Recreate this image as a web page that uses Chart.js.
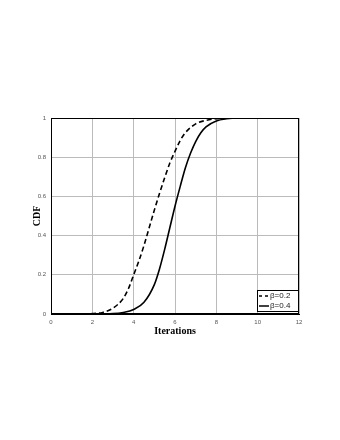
<!DOCTYPE html>
<html>
<head>
<meta charset="utf-8">
<script src="https://cdn.jsdelivr.net/npm/chart.js@4/dist/chart.umd.min.js"></script>
<style>
html,body{margin:0;padding:0;background:#fff;}
#wrap{width:340px;height:440px;}
</style>
</head>
<body>
<div id="wrap"><canvas id="c" width="340" height="440"></canvas></div>
<script>
const xLabel = "Iterations";
const yLabel = "CDF";
const seriesNames = ["\u03b2=0.2", "\u03b2=0.4"];
const xTicks = [0, 2, 4, 6, 8, 10, 12];
const yTicks = [0, 0.2, 0.4, 0.6, 0.8, 1];

const xBeta02 = [0, 1, 2, 2.5, 3, 3.5, 3.75, 4, 4.25, 4.5, 4.75, 5, 5.25, 5.5, 5.75, 6, 6.25, 6.5, 7, 7.5, 8, 9, 10, 11];
const yBeta02 = [0, 0, 0.002, 0.008, 0.03, 0.08, 0.13, 0.2, 0.27, 0.35, 0.44, 0.53, 0.615, 0.695, 0.77, 0.83, 0.885, 0.925, 0.97, 0.988, 0.996, 1, 1, 1];

const xBeta04 = [0, 1, 2, 3, 3.5, 4, 4.5, 5, 5.25, 5.5, 5.75, 6, 6.25, 6.5, 6.75, 7, 7.25, 7.5, 8, 8.5, 9, 10, 11];
const yBeta04 = [0, 0, 0, 0.002, 0.008, 0.023, 0.06, 0.15, 0.23, 0.33, 0.44, 0.55, 0.65, 0.745, 0.82, 0.88, 0.925, 0.955, 0.985, 0.996, 1, 1, 1];

function pts(xs, ys){ return xs.map((x,i)=>({x:x, y:ys[i]})); }

const titlesAndFrame = {
  id: 'titlesAndFrame',
  afterDraw(chart){
    const ctx = chart.ctx, a = chart.chartArea;
    ctx.save();
    ctx.strokeStyle = '#000';
    ctx.lineWidth = 1;
    ctx.strokeRect(a.left+0.5, a.top+0.5, a.right-a.left-1, a.bottom-a.top-1);
    ctx.fillStyle = '#000';
    ctx.font = 'bold 10px "Liberation Serif", "DejaVu Serif", serif';
    ctx.textAlign = 'center';
    ctx.textBaseline = 'middle';
    ctx.fillText(xLabel, (a.left+a.right)/2, 331);
    ctx.save();
    ctx.translate(37, (a.top+a.bottom)/2);
    ctx.rotate(-Math.PI/2);
    ctx.fillText(yLabel, 0, 0);
    ctx.restore();
    const lx = 257, ly = 290, lw = 41, lh = 21;
    ctx.fillStyle = '#fff';
    ctx.fillRect(lx, ly, lw, lh);
    ctx.strokeStyle = '#000';
    ctx.lineWidth = 1;
    ctx.strokeRect(lx+0.5, ly+0.5, lw, lh);
    ctx.lineWidth = 1.5;
    ctx.setLineDash([3,3]);
    ctx.beginPath(); ctx.moveTo(lx+2, ly+6); ctx.lineTo(lx+12, ly+6); ctx.stroke();
    ctx.setLineDash([]);
    ctx.beginPath(); ctx.moveTo(lx+2, ly+16); ctx.lineTo(lx+12, ly+16); ctx.stroke();
    ctx.fillStyle = '#222';
    ctx.font = '8px "Liberation Sans", Arial, sans-serif';
    ctx.textAlign = 'left';
    ctx.fillText(seriesNames[0], lx+13, ly+6);
    ctx.fillText(seriesNames[1], lx+13, ly+16);
    ctx.restore();
  }
};

new Chart(document.getElementById('c'), {
  type: 'line',
  data: {
    datasets: [
      { label: seriesNames[0], data: pts(xBeta02, yBeta02), borderColor: '#000', borderWidth: 1.6, borderDash: [5,3], pointRadius: 0, fill: false, cubicInterpolationMode: 'monotone' },
      { label: seriesNames[1], data: pts(xBeta04, yBeta04), borderColor: '#000', borderWidth: 1.6, pointRadius: 0, fill: false, cubicInterpolationMode: 'monotone' }
    ]
  },
  options: {
    responsive: false,
    animation: false,
    layout: { padding: { left: 0, top: 118, right: 41, bottom: 0 } },
    plugins: { legend: { display: false }, tooltip: { enabled: false } },
    scales: {
      x: {
        type: 'linear', min: 0, max: 12,
        afterBuildTicks(s){ s.ticks = xTicks.map(v=>({value:v})); },
        afterFit(s){ s.height = 126; },
        grid: { color: '#bbb', lineWidth: 1, drawTicks: false },
        border: { color: '#000' },
        ticks: { color: '#555', font: { size: 6, family: '"Liberation Sans", Arial, sans-serif' }, padding: 5, maxRotation: 0 }
      },
      y: {
        type: 'linear', min: 0, max: 1,
        afterBuildTicks(s){ s.ticks = yTicks.map(v=>({value:v})); },
        afterFit(s){ s.width = 51; },
        grid: { color: '#bbb', lineWidth: 1, drawTicks: false },
        border: { color: '#000' },
        ticks: { color: '#555', font: { size: 6, family: '"Liberation Sans", Arial, sans-serif' }, padding: 5,
          callback: v => String(v) }
      }
    }
  },
  plugins: [titlesAndFrame]
});
</script>
</body>
</html>
